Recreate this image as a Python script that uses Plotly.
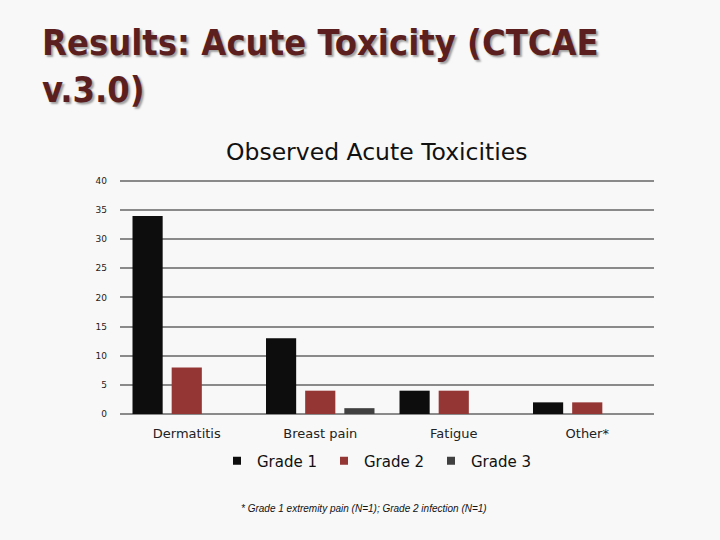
import plotly.graph_objects as go

categories = ["Dermatitis", "Breast pain", "Fatigue", "Other*"]
grade1 = [34, 13, 4, 2]
grade2 = [8, 4, 4, 2]
grade3 = [0, 1, 0, 0]
series_names = ["Grade 1", "Grade 2", "Grade 3"]
colors = ["#0d0d0d", "#943634", "#404040"]
y_ticks = [0, 5, 10, 15, 20, 25, 30, 35, 40]

fig = go.Figure()
for name, vals, c in zip(series_names, [grade1, grade2, grade3], colors):
    fig.add_trace(go.Bar(name=name, x=categories, y=vals, marker_color=c,
                         marker_line_width=0, showlegend=False))
# legend entries with small square symbols
for name, c in zip(series_names, colors):
    fig.add_trace(go.Scatter(name=name, x=[None], y=[None], mode="markers",
                             marker=dict(symbol="square", size=8, color=c),
                             showlegend=True))

W, H = 720, 540
L, R, T, B = 120, 654, 178, 414
ph = B - T

fig.update_layout(
    width=W, height=H,
    margin=dict(l=L, r=W - R, t=T, b=H - B, autoexpand=False),
    paper_bgcolor="#f8f8f8", plot_bgcolor="rgba(0,0,0,0)",
    barmode="group", bargap=0.12, bargroupgap=0.23,
    showlegend=True,
    legend=dict(orientation="h", x=(217 - L) / (R - L), xanchor="left",
                y=-(461 - B) / ph, yanchor="middle",
                font=dict(family="DejaVu Sans", size=15, color="#111"),
                itemwidth=30, entrywidth=62, entrywidthmode="pixels",
                traceorder="normal", bgcolor="rgba(0,0,0,0)"),
    xaxis=dict(showgrid=False, showline=False, zeroline=False, ticks="",
               tickfont=dict(family="DejaVu Sans", size=13, color="#222"),
               ticklabelstandoff=10),
    yaxis=dict(range=[0, 40.5], tickvals=y_ticks, showgrid=True, gridcolor="#8a8a8a",
               gridwidth=2, zeroline=True, zerolinecolor="#8a8a8a", zerolinewidth=2,
               showline=False, ticks="",
               tickfont=dict(family="DejaVu Sans", size=9, color="#222"),
               ticklabelstandoff=12),
    annotations=[
        dict(text="Results: Acute Toxicity (CTCAE<br>v.3.0)", xref="paper", yref="paper",
             x=(40 - L) / (R - L), y=(B - 20) / ph, xanchor="left", yanchor="top",
             align="left", showarrow=False,
             font=dict(family="DejaVu Sans Condensed, Open Sans",
                       size=36, color="#5c1f1f", weight="bold",
                       shadow="2px 2px 2px #a0a0a0")),
        dict(text="Observed Acute Toxicities", xref="paper", yref="paper",
             x=(377 - L) / (R - L), y=(B - 152) / ph, xanchor="center", yanchor="middle",
             showarrow=False, font=dict(family="DejaVu Sans", size=23.5, color="#111")),
        dict(text="<i>* Grade 1 extremity pain (N=1); Grade 2 infection (N=1)</i>",
             xref="paper", yref="paper",
             x=(364 - L) / (R - L), y=(B - 508) / ph, xanchor="center", yanchor="middle",
             showarrow=False, font=dict(family="Liberation Sans", size=10, color="#111")),
    ],
)

fig.write_html("out.html", config={"displayModeBar": False},
               post_script="document.body.style.margin='0';")
